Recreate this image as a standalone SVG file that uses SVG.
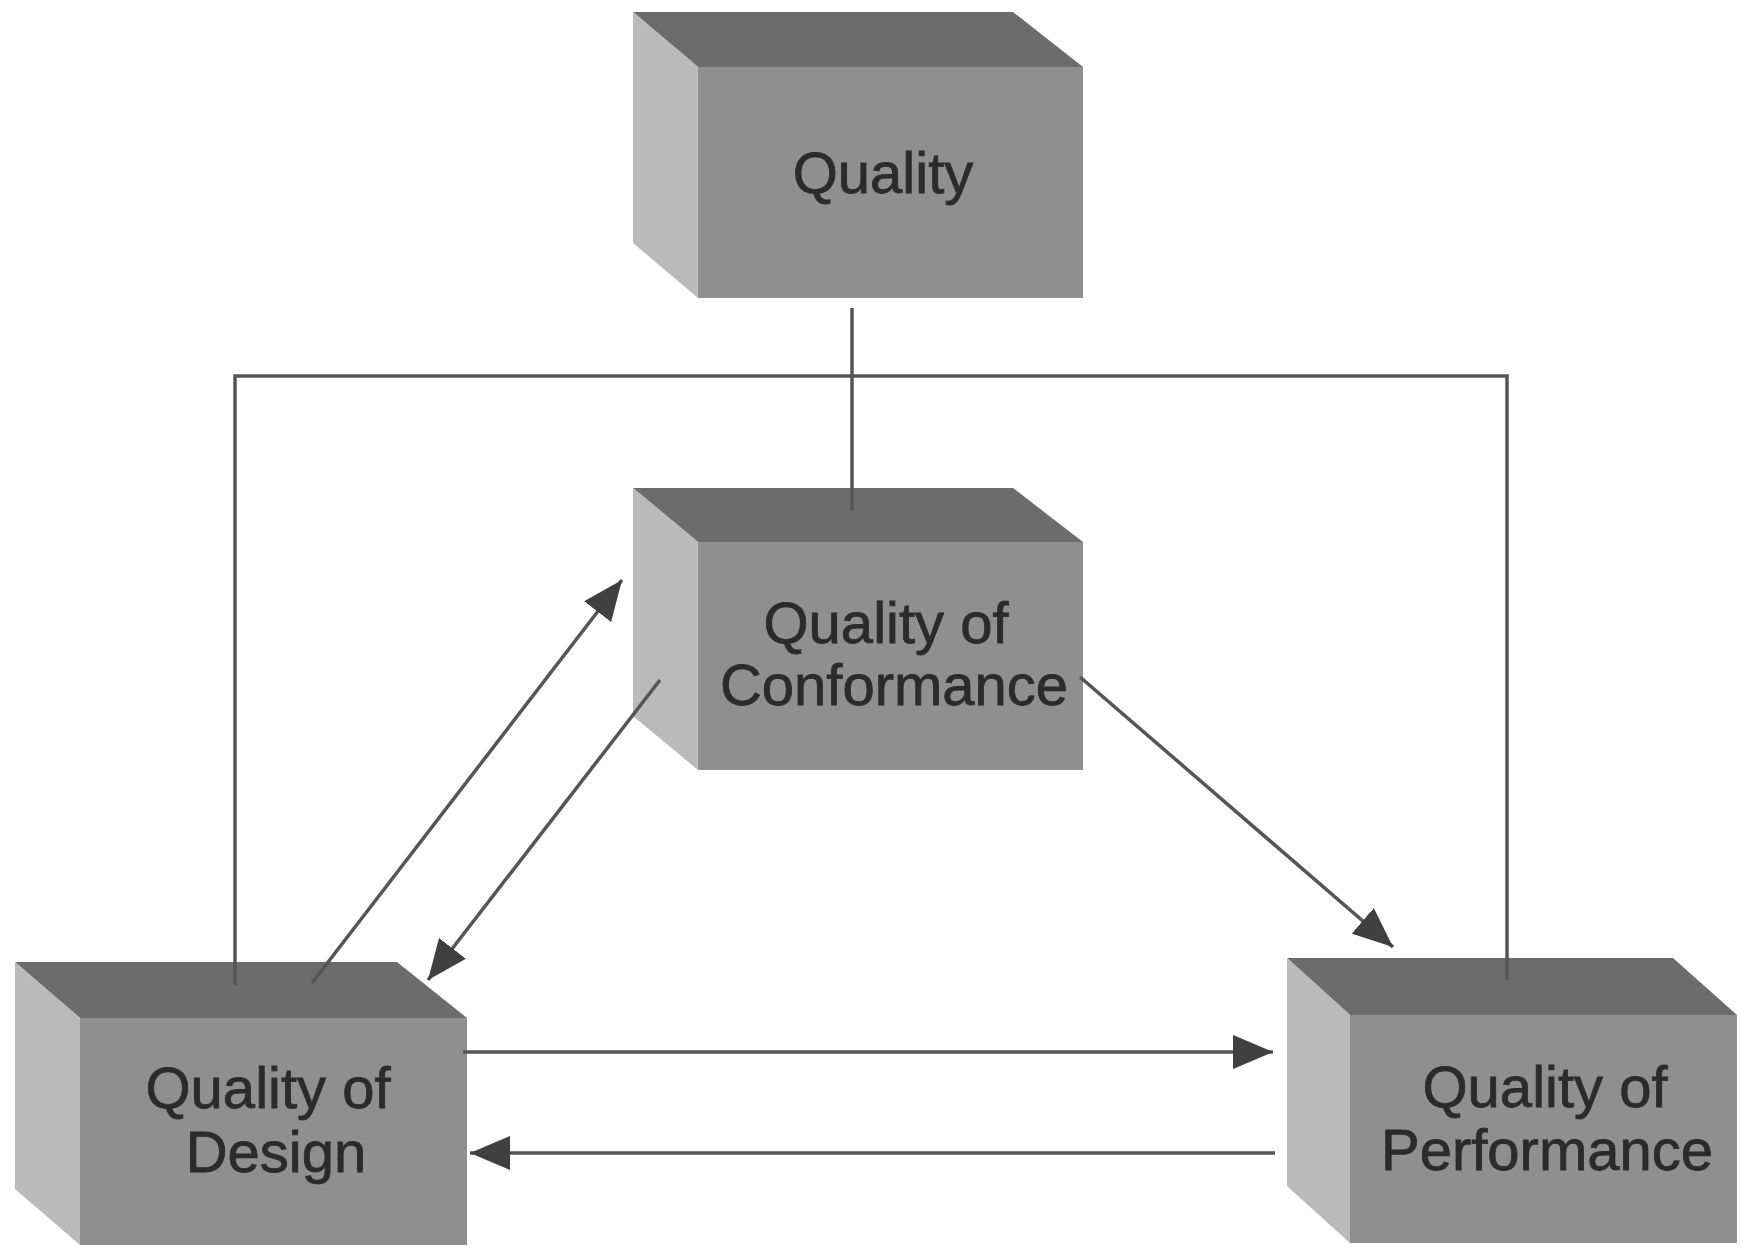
<svg xmlns="http://www.w3.org/2000/svg" width="1742" height="1249" viewBox="0 0 1742 1249">
  <style>
    .top { fill: #6c6c6c; }
    .side { fill: #bababa; }
    .front { fill: #8f8f8f; }
    .lbl { font-family: "Liberation Sans", Arial, sans-serif; font-size: 58px; fill: #2b2b2b; stroke: #2b2b2b; stroke-width: 0.8; text-anchor: middle; }
    .conn { fill: none; stroke: #555555; stroke-width: 3.5; }
  </style>
  <defs>
    <marker id="arrow" viewBox="0 0 40 34" refX="40" refY="17" markerWidth="40" markerHeight="34" markerUnits="userSpaceOnUse" orient="auto">
      <path d="M0,0 L40,17 L0,34 z" fill="#404040"/>
    </marker>
  </defs>
  <rect width="1742" height="1249" fill="#ffffff"/>

  <g id="quality">
    <polygon class="top" points="633,12 1013,12 1083,67 698,67"/>
    <polygon class="side" points="633,12 698,67 698,298 633,243"/>
    <rect class="front" x="698" y="67" width="385" height="231"/>
    <text class="lbl" x="883" y="193">Quality</text>
  </g>

  <g id="conformance">
    <polygon class="top" points="633,488 1013,488 1083,542 698,542"/>
    <polygon class="side" points="633,488 698,542 698,770 633,716"/>
    <rect class="front" x="698" y="542" width="385" height="228"/>
    <text class="lbl" x="886" y="643">Quality of</text>
    <text class="lbl" x="894" y="705">Conformance</text>
  </g>

  <g id="design">
    <polygon class="top" points="15,962 397,962 467,1018 80,1018"/>
    <polygon class="side" points="15,962 80,1018 80,1245 15,1189"/>
    <rect class="front" x="80" y="1018" width="387" height="227"/>
    <text class="lbl" x="268" y="1108">Quality of</text>
    <text class="lbl" x="276" y="1172">Design</text>
  </g>

  <g id="performance">
    <polygon class="top" points="1287,958 1673,958 1737,1015 1350,1015"/>
    <polygon class="side" points="1287,958 1350,1015 1350,1243 1287,1186"/>
    <rect class="front" x="1350" y="1015" width="387" height="228"/>
    <text class="lbl" x="1545" y="1107">Quality of</text>
    <text class="lbl" x="1547" y="1170">Performance</text>
  </g>

  <g id="connectors">
    <path class="conn" d="M852,308 V510"/>
    <path class="conn" d="M235,985 V376 H1507 V980"/>
    <path class="conn" d="M312,983 L622,580" marker-end="url(#arrow)"/>
    <path class="conn" d="M660,680 L428,980" marker-end="url(#arrow)"/>
    <path class="conn" d="M1080,677 L1393,947" marker-end="url(#arrow)"/>
    <path class="conn" d="M463,1052 H1273" marker-end="url(#arrow)"/>
    <path class="conn" d="M1275,1153 H470" marker-end="url(#arrow)"/>
  </g>
</svg>
